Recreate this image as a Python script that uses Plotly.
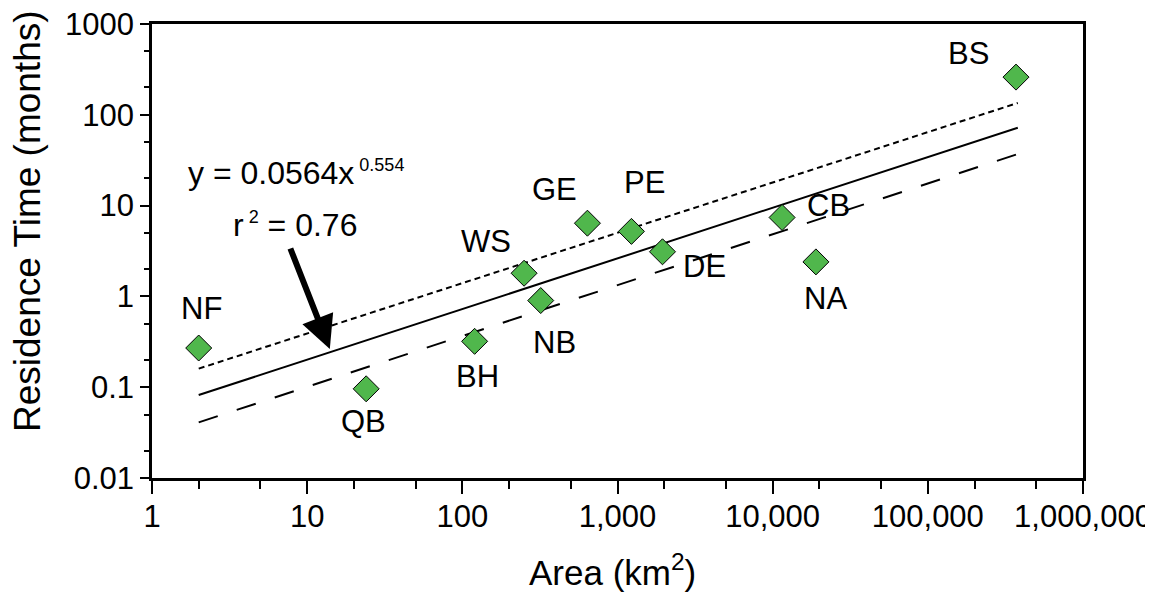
import math
import plotly.graph_objects as go

# ---- data ----
sites = ["NF", "QB", "BH", "WS", "NB", "GE", "PE", "DE", "CB", "NA", "BS"]
area_km2 = [2, 24, 120, 250, 320, 640, 1230, 1950, 11500, 19000, 370000]
residence_months = [0.27, 0.096, 0.32, 1.8, 0.9, 6.4, 5.2, 3.1, 7.4, 2.4, 260]

fit_x = [2, 380000]
fit_y = [0.082, 72]
upper_y = [0.16, 135]
lower_y = [0.041, 37]

x_tickvals = [1, 10, 100, 1000, 10000, 100000, 1000000]
x_ticktext = ["1", "10", "100", "1,000", "10,000", "100,000", "1,000,000"]
y_tickvals = [0.01, 0.1, 1, 10, 100, 1000]
y_ticktext = ["0.01", "0.1", "1", "10", "100", "1000"]

# label offsets in pixels (style, not data)
label_shift = {
    "NF": (3, 40), "QB": (-3, -33), "BH": (3, -35), "WS": (-38, 32),
    "NB": (14, -42), "GE": (-33, 34), "PE": (13, 49), "DE": (42, -15),
    "CB": (46, 12), "NA": (10, -37), "BS": (-48, 24),
}

FONT = "Liberation Sans, Arial, sans-serif"

fig = go.Figure()
fig.add_trace(go.Scatter(x=fit_x, y=upper_y, mode="lines",
                         line=dict(color="black", width=2, dash="6px,4px"),
                         showlegend=False, hoverinfo="skip"))
fig.add_trace(go.Scatter(x=fit_x, y=fit_y, mode="lines",
                         line=dict(color="black", width=2),
                         showlegend=False, hoverinfo="skip"))
fig.add_trace(go.Scatter(x=fit_x, y=lower_y, mode="lines",
                         line=dict(color="black", width=2, dash="20px,20px"),
                         showlegend=False, hoverinfo="skip"))
fig.add_trace(go.Scatter(x=area_km2, y=residence_months, mode="markers",
                         marker=dict(symbol="diamond", size=20, color="#50b74c",
                                     line=dict(color="black", width=1)),
                         showlegend=False))

for s, xv, yv in zip(sites, area_km2, residence_months):
    dx, dy = label_shift[s]
    fig.add_annotation(x=math.log10(xv), y=math.log10(yv), text=s, showarrow=False,
                       xshift=dx, yshift=dy, font=dict(family=FONT, size=31, color="black"))

# equation text
fig.add_annotation(x=0.222, y=1.356, xanchor="left", yanchor="middle", showarrow=False,
                   text="y = 0.0564x<sup><span style='font-size:18px'> 0.554</span></sup>",
                   font=dict(family=FONT, size=32, color="black"))
fig.add_annotation(x=0.512, y=0.783, xanchor="left", yanchor="middle", showarrow=False,
                   text="r<sup><span style='font-size:18px'> 2</span></sup> = 0.76",
                   font=dict(family=FONT, size=32, color="black"))
# arrow
fig.add_annotation(x=1.146, y=-0.58, ax=0.888, ay=0.544, axref="x", ayref="y",
                   xref="x", yref="y", text="", showarrow=True,
                   arrowhead=2, arrowsize=1.1, arrowwidth=6, arrowcolor="black")

# axis titles
fig.add_annotation(xref="paper", yref="paper", x=-0.1343, y=0.566, textangle=-90,
                   xanchor="center", yanchor="middle",
                   text="Residence Time (months)", showarrow=False,
                   font=dict(family=FONT, size=37, color="black"))
fig.add_annotation(xref="paper", yref="paper", x=0.495, y=-0.2037,
                   xanchor="center", yanchor="middle",
                   text="Area (km<sup>2</sup>)", showarrow=False,
                   font=dict(family=FONT, size=35, color="black"))

fig.update_xaxes(type="log", range=[0, 6], tickvals=x_tickvals, ticktext=x_ticktext,
                 automargin=False, ticklabeloverflow="allow", ticklabelstandoff=-4,
                 ticks="outside", ticklen=13, tickwidth=2, tickcolor="black",
                 showline=True, linewidth=2.5, linecolor="black", mirror=True,
                 showgrid=False, zeroline=False,
                 tickfont=dict(family=FONT, size=31, color="black"),
                 minor=dict(ticks="outside", ticklen=8, tickwidth=1.5, tickcolor="black",
                            showgrid=False))
fig.update_yaxes(type="log", range=[-2, 3], tickvals=y_tickvals, ticktext=y_ticktext,
                 automargin=False, ticklabeloverflow="allow",
                 ticks="outside", ticklen=9, tickwidth=2, tickcolor="black",
                 showline=True, linewidth=2.5, linecolor="black", mirror=True,
                 showgrid=False, zeroline=False,
                 tickfont=dict(family=FONT, size=31, color="black"),
                 minor=dict(ticks="outside", ticklen=5, tickwidth=1.5, tickcolor="black",
                            showgrid=False))

# page body has an 8px margin, so the figure is 8px smaller and margins shifted
fig.update_layout(width=1145, height=586, plot_bgcolor="white", paper_bgcolor="white",
                  margin=dict(l=144, r=70, t=16, b=116, autoexpand=False),
                  font=dict(family=FONT))

fig.write_html("out.html")
